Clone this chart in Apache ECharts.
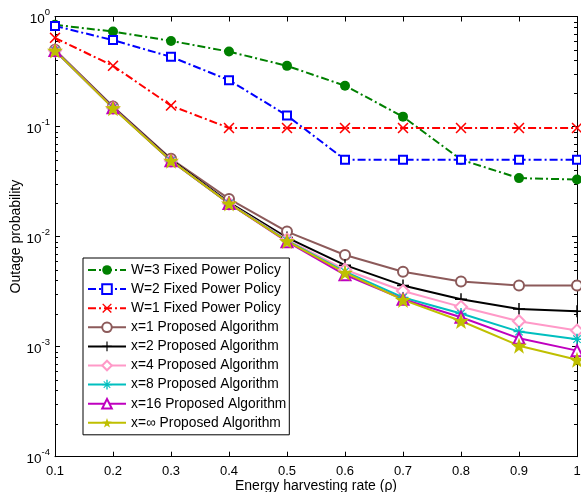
<!DOCTYPE html>
<html><head><meta charset="utf-8">
<script src="https://cdn.jsdelivr.net/npm/echarts@6/dist/echarts.min.js"></script>
<style>html,body{margin:0;padding:0;background:#fff}#c{width:581px;height:492px}</style>
</head><body><div id="c"></div>
<script>
const categories = ['0.1','0.2','0.3','0.4','0.5','0.6','0.7','0.8','0.9','1'];
const w3 = [0.84, 0.73, 0.60, 0.48, 0.356, 0.235, 0.123, 0.05, 0.034, 0.033];
const w2 = [0.82, 0.61, 0.43, 0.264, 0.126, 0.05, 0.05, 0.05, 0.05, 0.05];
const w1 = [0.64, 0.356, 0.155, 0.097, 0.097, 0.097, 0.097, 0.097, 0.097, 0.097];
const x1 = [0.50, 0.152, 0.051, 0.022, 0.0111, 0.0068, 0.0048, 0.0039, 0.0036, 0.0036];
const x2 = [0.49, 0.150, 0.050, 0.0205, 0.0098, 0.0055, 0.0036, 0.0027, 0.0022, 0.0021];
const x4 = [0.49, 0.148, 0.049, 0.020, 0.0094, 0.0050, 0.0032, 0.0023, 0.0017, 0.0014];
const x8 = [0.49, 0.148, 0.049, 0.020, 0.0092, 0.0048, 0.0028, 0.0020, 0.00137, 0.00117];
const x16 = [0.49, 0.148, 0.049, 0.020, 0.0090, 0.0045, 0.0027, 0.00185, 0.00119, 0.00092];
const xinf = [0.49, 0.147, 0.049, 0.020, 0.0091, 0.0047, 0.00266, 0.00171, 0.00102, 0.00076];
const seriesNames = ['W=3 Fixed Power Policy','W=2 Fixed Power Policy','W=1 Fixed Power Policy',
  'x=1 Proposed Algorithm','x=2 Proposed Algorithm','x=4 Proposed Algorithm','x=8 Proposed Algorithm',
  'x=16 Proposed Algorithm','x=\u221e Proposed Algorithm'];
const minorMultipliers = [2,3,4,5,6,7,8,9];
const decades = [1e-4, 1e-3, 1e-2, 1e-1];

const FONT = '"Liberation Sans", Arial, Helvetica, sans-serif';
const P_X = 'path://M0 2 L2 0 L10 8 L18 0 L20 2 L12 10 L20 18 L18 20 L10 12 L2 20 L0 18 L8 10 Z';
const P_PLUS = 'path://M8.8 0 L11.2 0 L11.2 8.8 L20 8.8 L20 11.2 L11.2 11.2 L11.2 20 L8.8 20 L8.8 11.2 L0 11.2 L0 8.8 L8.8 8.8 Z';
const P_AST = 'path://M8.6 0 L11.4 0 L11.4 8.6 L20 8.6 L20 11.4 L11.4 11.4 L11.4 20 L8.6 20 L8.6 11.4 L0 11.4 L0 8.6 L8.6 8.6 Z M2.5 3.9 L3.9 2.5 L10 8.6 L16.1 2.5 L17.5 3.9 L11.4 10 L17.5 16.1 L16.1 17.5 L10 11.4 L3.9 17.5 L2.5 16.1 L8.6 10 Z';
const P_STAR = 'path://M10 0 L12.351 6.764 L19.511 6.91 L13.804 11.236 L15.878 18.09 L10 14 L4.122 18.09 L6.196 11.236 L0.489 6.91 L7.649 6.764 Z';
const DASHDOT = [8, 3, 2, 3];

function mk(name, data, color, symbol, size, dashed, empty) {
  return {
    name, type: 'line', data, clip: false, smooth: false,
    symbol, symbolSize: size, showAllSymbol: true,
    lineStyle: { color, width: 2, type: dashed ? DASHDOT : 'solid' },
    itemStyle: empty ? { color: color, borderColor: color, borderWidth: 2 } : { color: color, borderWidth: 0 },
    emphasis: { disabled: true }, animation: false
  };
}

const series = [
  mk(seriesNames[0], w3, '#008000', 'circle', 10, true, false),
  mk(seriesNames[1], w2, '#0000ff', 'emptyRect', 8, true, true),
  mk(seriesNames[2], w1, '#ff0000', P_X, 11, true, false),
  mk(seriesNames[3], x1, '#8c5a5a', 'emptyCircle', 10, false, true),
  mk(seriesNames[4], x2, '#000000', P_PLUS, 12, false, false),
  mk(seriesNames[5], x4, '#ff99c8', 'emptyDiamond', 12, false, true),
  mk(seriesNames[6], x8, '#00bfbf', P_AST, 11, false, false),
  mk(seriesNames[7], x16, '#bf00bf', 'emptyTriangle', 11, false, true),
  mk(seriesNames[8], xinf, '#bfbf00', P_STAR, 16, false, false)
];

const minorVals = [];
decades.forEach(d => minorMultipliers.forEach(m => minorVals.push(m * d)));
series.push({
  type: 'custom', silent: true, animation: false, z: 1,
  data: minorVals.map(v => [v]),
  renderItem: function (params, api) {
    const v = api.value(0);
    const l = api.coord([0, v]);
    const r = api.coord([categories.length - 1, v]);
    const s = { stroke: '#000', lineWidth: 1 };
    return { type: 'group', children: [
      { type: 'line', shape: { x1: l[0], y1: Math.round(l[1]) + 0.5, x2: l[0] + 3, y2: Math.round(l[1]) + 0.5 }, style: s },
      { type: 'line', shape: { x1: r[0], y1: Math.round(r[1]) + 0.5, x2: r[0] - 3, y2: Math.round(r[1]) + 0.5 }, style: s }
    ]};
  }
});

const axisLine = { show: true, onZero: false, lineStyle: { color: '#000', width: 1 } };
const chart = echarts.init(document.getElementById('c'));
chart.setOption({
  animation: false,
  backgroundColor: '#fff',
  textStyle: { fontFamily: FONT },
  grid: { left: 55, right: 4, top: 16.5, bottom: 35.3, containLabel: false, outerBoundsMode: 'none' },
  legend: {
    data: seriesNames, orient: 'vertical', left: 83, top: 258,
    itemWidth: 38, itemHeight: 12, itemGap: 5.1,
    padding: [5, 3, 5, 4], backgroundColor: '#fff', borderColor: '#000', borderWidth: 1,
    textStyle: { fontFamily: FONT, fontSize: 13.8, color: '#000' },
    selectedMode: false
  },
  xAxis: [{
    type: 'category', data: categories, boundaryGap: false, position: 'bottom',
    axisLine, axisTick: { show: true, inside: true, length: 5, alignWithLabel: true, lineStyle: { color: '#000' } },
    axisLabel: { color: '#000', fontSize: 13, fontFamily: FONT, margin: 8, showMaxLabel: true, showMinLabel: true, interval: 0 },
    splitLine: { show: false },
    name: 'Energy harvesting rate (\u03c1)', nameLocation: 'middle', nameGap: 22, nameMoveOverlap: false,
    nameTextStyle: { color: '#000', fontSize: 14, fontFamily: FONT }
  }, {
    type: 'category', data: categories, boundaryGap: false, position: 'top',
    axisLine, axisTick: { show: true, inside: true, length: 5, lineStyle: { color: '#000' } },
    axisLabel: { show: false }, splitLine: { show: false }
  }],
  yAxis: [{
    type: 'log', logBase: 10, min: 1e-4, max: 1, position: 'left',
    axisLine, axisTick: { show: true, inside: true, length: 5, lineStyle: { color: '#000' } },
    splitLine: { show: false },
    axisLabel: {
      color: '#000', margin: 5, fontFamily: FONT,
      formatter: function (v) {
        const e = Math.round(Math.log10(v));
        return '{b|10}{e|' + e + '}';
      },
      rich: {
        b: { fontSize: 13.5, lineHeight: 19, verticalAlign: 'bottom', fontFamily: FONT, color: '#000' },
        e: { fontSize: 9.5, lineHeight: 19, verticalAlign: 'top', fontFamily: FONT, color: '#000' }
      }
    },
    name: 'Outage probability', nameLocation: 'middle', nameGap: 32, nameRotate: 90, nameMoveOverlap: false,
    nameTextStyle: { color: '#000', fontSize: 14, fontFamily: FONT }
  }, {
    type: 'log', logBase: 10, min: 1e-4, max: 1, position: 'right',
    axisLine, axisTick: { show: true, inside: true, length: 5, lineStyle: { color: '#000' } },
    axisLabel: { show: false }, splitLine: { show: false }
  }],
  series
});
</script></body></html>
